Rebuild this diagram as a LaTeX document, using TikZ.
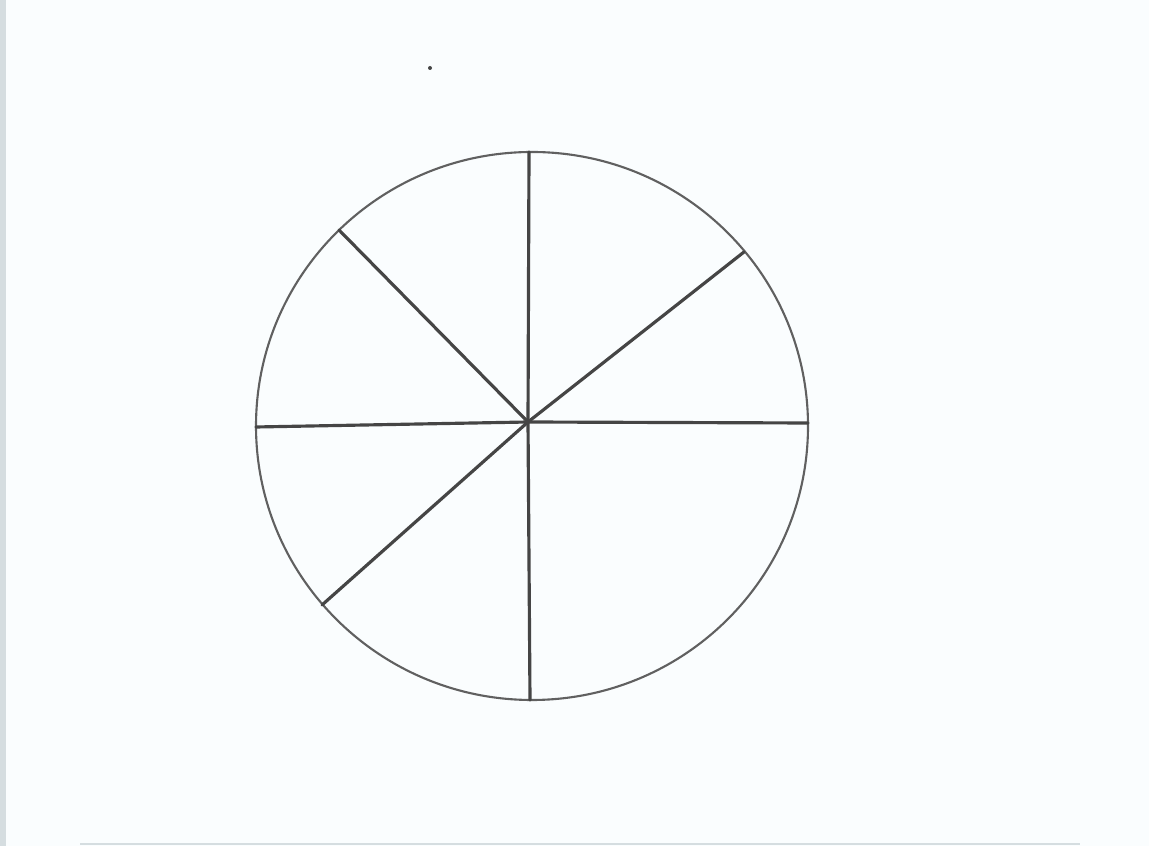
\documentclass[tikz,border=0pt]{standalone}
\usepackage{tikz}
\usetikzlibrary{calc}

\definecolor{paper}{HTML}{FAFDFE}
\definecolor{pen}{HTML}{454545}
\definecolor{rim}{HTML}{606060}
\definecolor{edge}{HTML}{D5DDE0}

\tikzset{
  spoke/.style={draw=pen, line width=0.9pt, line cap=round},
  wheel/.style={draw=rim, line width=0.6pt}
}

\begin{document}
\begin{tikzpicture}[x=1cm, y=1cm]
  % page
  \fill[paper] (0,0) rectangle (11.49,8.46);
  \useasboundingbox (0,0) rectangle (11.49,8.46);
  \fill[edge] (0,0) rectangle (0.06,8.46);
  \draw[edge, line width=0.8pt] (0.8,0.02) -- (10.8,0.02);
  \fill[pen] (4.30,7.78) circle (0.02);

  % hub and rim points
  \coordinate (hub) at (5.28,4.24);
  \coordinate (north) at (5.29,6.94);
  \coordinate (south) at (5.30,1.46);
  \coordinate (west) at (2.56,4.19);
  \coordinate (east) at (8.08,4.23);
  \coordinate (northwest) at (3.39,6.16);
  \coordinate (northeast) at (7.44,5.94);
  \coordinate (southwest) at (3.22,2.41);

  % circle
  \draw[wheel] (5.32,4.20) ellipse (2.76 and 2.74);

  % spokes
  \foreach \tip in {north, south, west, east, northwest, northeast, southwest}
    \draw[spoke] (hub) -- (\tip);
\end{tikzpicture}
\end{document}
